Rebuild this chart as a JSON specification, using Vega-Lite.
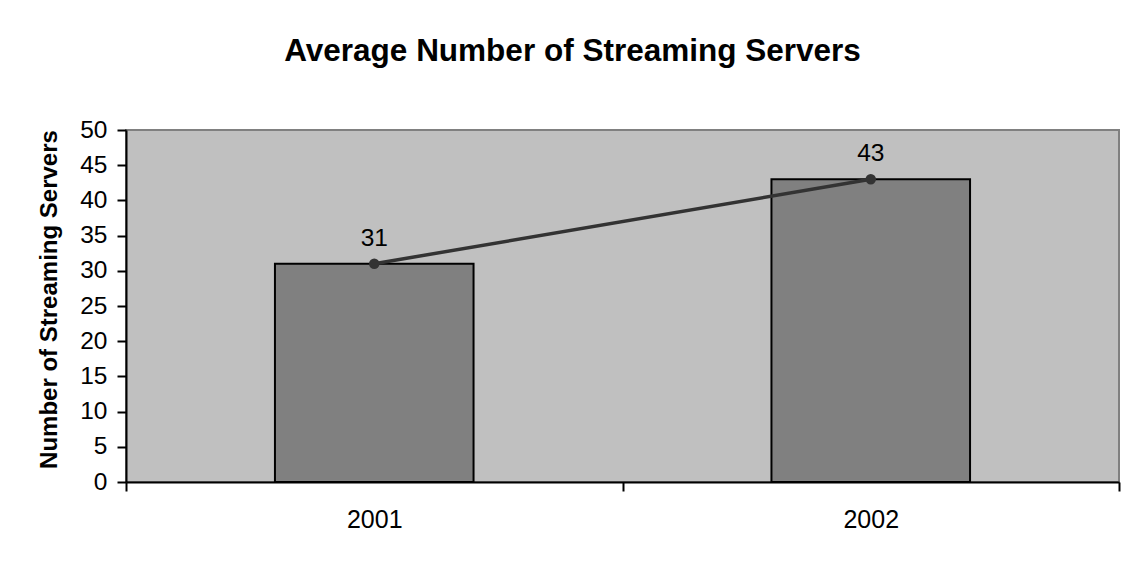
{
  "$schema": "https://vega.github.io/schema/vega-lite/v6.json",
  "autosize": {"type": "none"},
  "width": 993,
  "height": 352,
  "padding": {"left": 126, "top": 130, "right": 10, "bottom": 79},
  "background": "white",
  "title": {
    "text": "Average Number of Streaming Servers",
    "font": "Liberation Sans",
    "fontSize": 31.5,
    "fontWeight": "bold",
    "color": "black",
    "anchor": "middle",
    "frame": "group",
    "dx": -50,
    "offset": 50
  },
  "data": {
    "values": [
      {"year": "2001", "servers": 31},
      {"year": "2002", "servers": 43}
    ]
  },
  "encoding": {
    "x": {
      "field": "year",
      "type": "ordinal",
      "scale": {"paddingInner": 0, "paddingOuter": 0},
      "axis": {
        "title": null,
        "labelAngle": 0,
        "tickBand": "extent",
        "labelFont": "Liberation Sans",
        "labelFontSize": 25,
        "labelColor": "black",
        "labelPadding": 16,
        "tickSize": 9,
        "tickWidth": 2,
        "tickColor": "black",
        "domainColor": "black",
        "domainWidth": 2
      }
    },
    "y": {
      "field": "servers",
      "type": "quantitative",
      "scale": {"domain": [0, 50], "nice": false},
      "axis": {
        "title": "Number of Streaming Servers",
        "titleFont": "Liberation Sans",
        "titleFontSize": 24,
        "titleFontWeight": "bold",
        "titleColor": "black",
        "titlePadding": 18,
        "titleY": 169,
        "values": [0, 5, 10, 15, 20, 25, 30, 35, 40, 45, 50],
        "grid": false,
        "labelFont": "Liberation Sans",
        "labelFontSize": 24.5,
        "labelColor": "black",
        "labelPadding": 10,
        "tickSize": 9,
        "tickWidth": 2,
        "tickColor": "black",
        "domainColor": "black",
        "domainWidth": 2
      }
    }
  },
  "layer": [
    {
      "mark": {
        "type": "bar",
        "width": {"band": 0.4},
        "fill": "#808080",
        "stroke": "black",
        "strokeWidth": 2
      }
    },
    {
      "mark": {"type": "line", "color": "#333333", "strokeWidth": 3.5}
    },
    {
      "mark": {"type": "point", "filled": true, "color": "#333333", "size": 110, "opacity": 1}
    },
    {
      "mark": {
        "type": "text",
        "font": "Liberation Sans",
        "fontSize": 24.5,
        "color": "black",
        "baseline": "alphabetic",
        "dy": -18
      },
      "encoding": {"text": {"field": "servers", "type": "quantitative"}}
    }
  ],
  "config": {
    "view": {"fill": "#C0C0C0", "stroke": "#808080", "strokeWidth": 2}
  }
}
